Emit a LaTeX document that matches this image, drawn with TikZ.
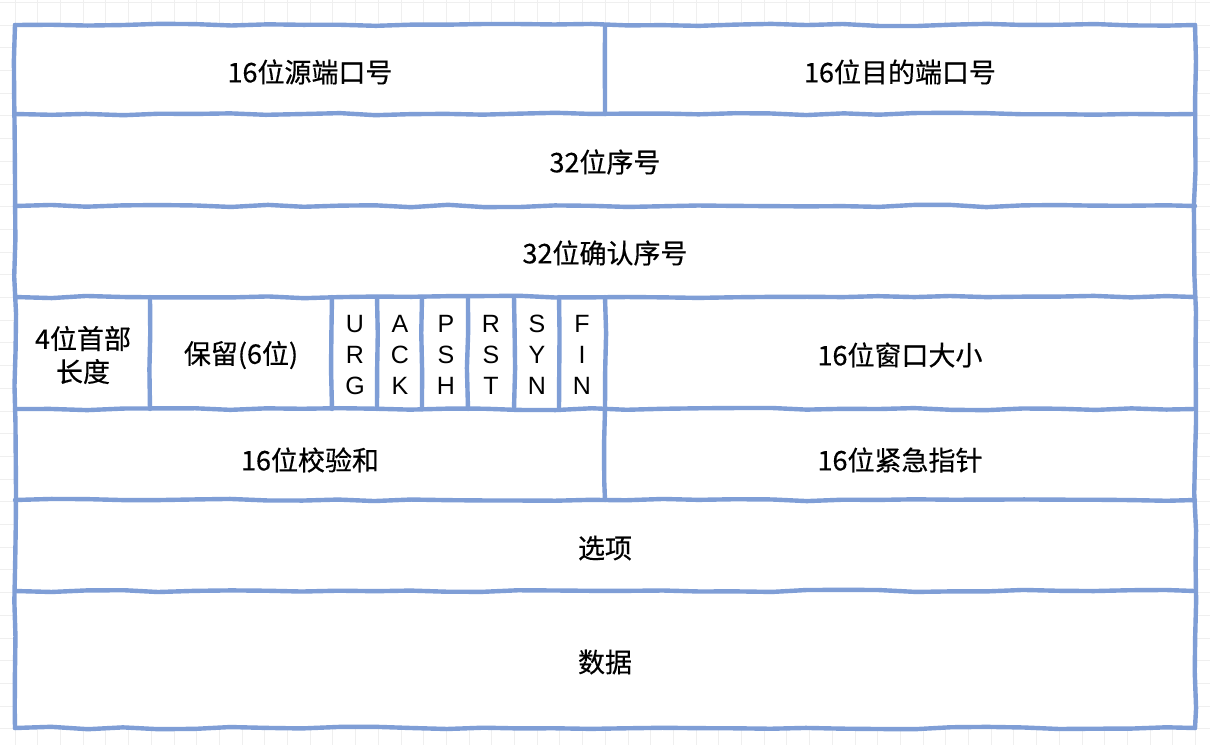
\documentclass[tikz,border=0pt]{standalone}
\usepackage{fontspec}
\setmainfont{Liberation Sans}
\newfontfamily\cjk[FakeBold=0.4]{Noto Sans CJK SC}
\usetikzlibrary{decorations.pathmorphing}
\definecolor{sketchblue}{HTML}{7F9ED6}
\definecolor{gridgray}{HTML}{EFEFEF}
\tikzset{
  sketch/.style={draw=sketchblue, line width=2.2pt, line cap=round, line join=round,
    decorate, decoration={random steps, segment length=18pt, amplitude=0.6pt}},
  field/.style={font=\cjk\fontsize{13.5}{16.5}\selectfont, inner sep=0pt, align=center},
  flag/.style={font=\fontsize{12.5}{15.5}\selectfont, inner sep=0pt, align=center},
}
\begin{document}
\begin{tikzpicture}[x=0.5pt, y=-0.5pt]
    \pgfmathsetseed{7}
    \useasboundingbox (0, 0) rectangle (1210, 745);
    \foreach \k in {-1,...,53} \draw[gridgray, line width=0.4pt] ({15+22.7*\k}, 0) -- ({15+22.7*\k}, 745);
    \foreach \k in {-2,...,33} \draw[gridgray, line width=0.4pt] (0, {25+22.7*\k}) -- (1210, {25+22.7*\k});
    \fill[white] (15, 25) rectangle (1195, 728);

    \draw[sketch] (15, 25) -- (1195, 25);
    \draw[sketch] (15, 728) -- (1195, 728);
    \draw[sketch] (15, 25) -- (15, 728);
    \draw[sketch] (1195, 25) -- (1195, 728);
    \foreach \y in {114, 206, 297, 409, 500, 591} \draw[sketch] (15, \y) -- (1195, \y);
    \draw[sketch] (605, 25) -- (605, 114);
    \draw[sketch] (605, 409) -- (605, 500);
    \foreach \x in {150, 332, 377, 422, 468, 514, 559, 605} \draw[sketch] (\x, 297) -- (\x, 409);

    \node[field] (srcport) at (310, 72) {16位源端口号};
    \node[field] (dstport) at (900, 72) {16位目的端口号};
    \node[field] (seqno) at (605, 162) {32位序号};
    \node[field] (ackno) at (605, 253) {32位确认序号};
    \node[field] (hdrlen) at (83, 355) {4位首部\\长度};
    \node[field] (reserved) at (241, 355) {保留(6位)};
    \node[flag] (urg) at (355, 355) {U\\R\\G};
    \node[flag] (ack) at (400, 355) {A\\C\\K};
    \node[flag] (psh) at (446, 355) {P\\S\\H};
    \node[flag] (rst) at (491, 355) {R\\S\\T};
    \node[flag] (syn) at (537, 355) {S\\Y\\N};
    \node[flag] (fin) at (582, 355) {F\\I\\N};
    \node[field] (window) at (900, 355) {16位窗口大小};
    \node[field] (checksum) at (310, 460) {16位校验和};
    \node[field] (urgptr) at (900, 460) {16位紧急指针};
    \node[field] (options) at (605, 548) {选项};
    \node[field] (payload) at (605, 662) {数据};
\end{tikzpicture}
\end{document}
